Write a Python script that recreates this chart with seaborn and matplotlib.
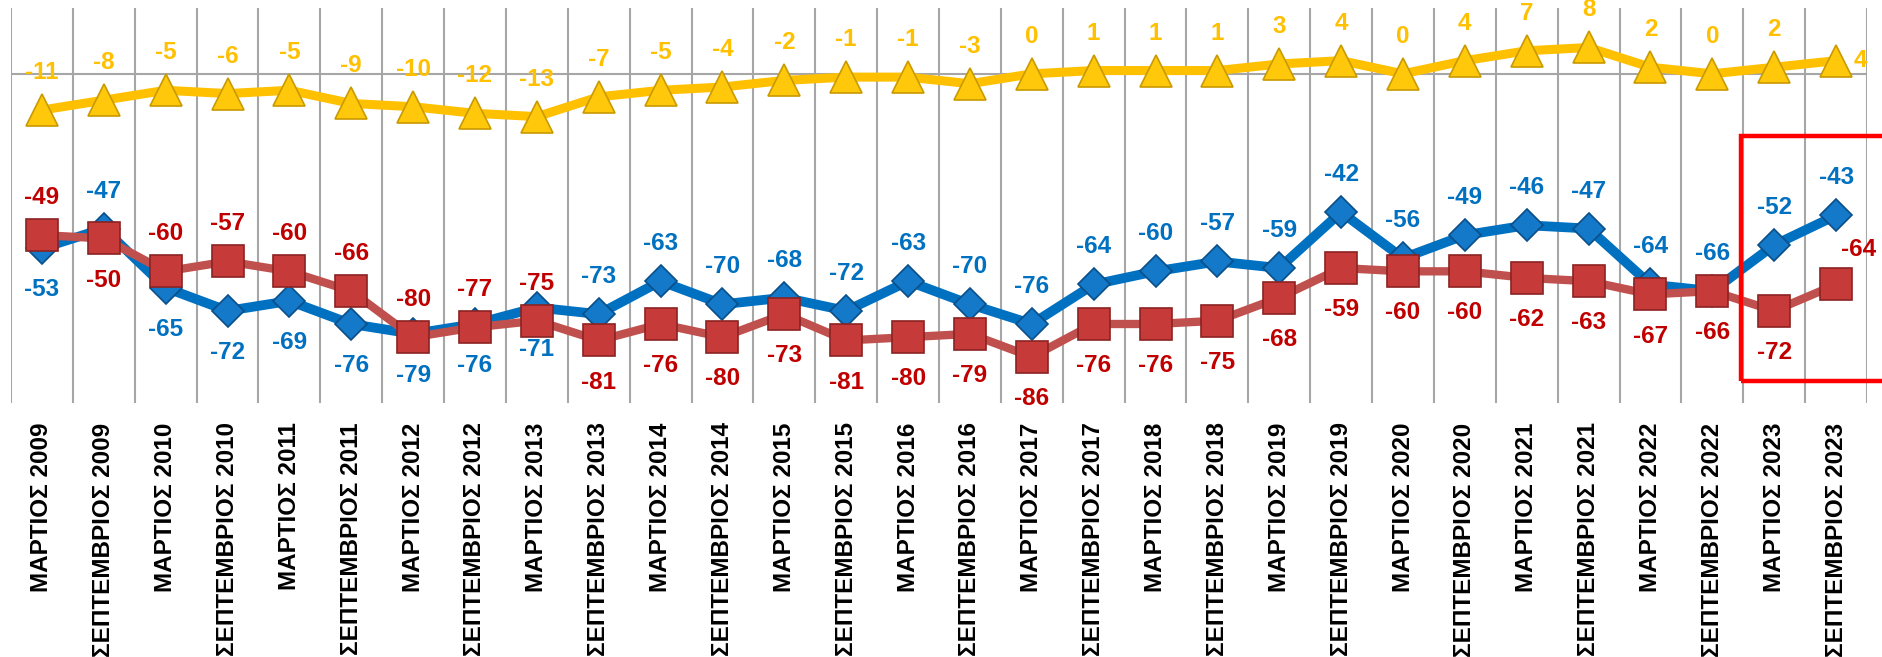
import numpy as np
import pandas as pd
import matplotlib
matplotlib.use("Agg")
import matplotlib.pyplot as plt
from matplotlib.patches import Rectangle
import seaborn as sns

# data
categories = []
for year in range(2009, 2024):
    categories.append(f"ΜΑΡΤΙΟΣ {year}")
    categories.append(f"ΣΕΠΤΕΜΒΡΙΟΣ {year}")

yellow = [-11, -8, -5, -6, -5, -9, -10, -12, -13, -7, -5, -4, -2, -1, -1,
          -3, 0, 1, 1, 1, 3, 4, 0, 4, 7, 8, 2, 0, 2, 4]
blue = [-53, -47, -65, -72, -69, -76, -79, -76, -71, -73, -63, -70, -68, -72, -63,
        -70, -76, -64, -60, -57, -59, -42, -56, -49, -46, -47, -64, -66, -52, -43]
red = [-49, -50, -60, -57, -60, -66, -80, -77, -75, -81, -76, -80, -73, -81, -80,
       -79, -86, -76, -76, -75, -68, -59, -60, -60, -62, -63, -67, -66, -72, -64]

# where each value label sits relative to its marker
yellow_pos = ["above"] * 29 + ["right"]
blue_pos = ["below", "above"] + ["below"] * 7 + ["above"] * 21
red_pos = ["above", "below"] + ["above"] * 7 + ["below"] * 20 + ["above_right"]

df = pd.DataFrame({"x": np.arange(len(categories)), "cat": categories,
                   "yellow": yellow, "blue": blue, "red": red})

sns.set_style("white")
plt.rcParams["font.family"] = ["Liberation Sans", "DejaVu Sans"]

fig = plt.figure(figsize=(18.83, 6.57), dpi=100)
ax = fig.add_axes([11 / 1883, 1 - 403 / 657, 1856 / 1883, 395 / 657])

sns.lineplot(data=df, x="x", y="yellow", ax=ax, color="#FFC000", linewidth=6.5,
             marker="^", markersize=23, markerfacecolor="#FFC80A",
             markeredgecolor="#C99A00", markeredgewidth=1.2, zorder=3)
sns.lineplot(data=df, x="x", y="blue", ax=ax, color="#0070C0", linewidth=7,
             marker="D", markersize=16.5, markerfacecolor="#1379C8",
             markeredgecolor="#0A4F8A", markeredgewidth=1.2, zorder=4)
sns.lineplot(data=df, x="x", y="red", ax=ax, color="#C0504D", linewidth=6,
             marker="s", markersize=23, markerfacecolor="#C73A3A",
             markeredgecolor="#8C2222", markeredgewidth=1.2, zorder=5)

offsets = {"above": (0, 27, "center"),
           "below": (0, -30, "center"),
           "right": (13, 0, "left"),
           "above_right": (16, 25, "center")}


def add_labels(values, positions, color):
    for i, (v, p) in enumerate(zip(values, positions)):
        dx, dy, ha = offsets[p]
        ax.annotate(f"{v}", (i, v), xytext=(dx, dy), textcoords="offset points",
                    ha=ha, va="center", color=color, fontsize=17.5, fontweight="bold",
                    zorder=6, annotation_clip=False)


add_labels(yellow, yellow_pos, "#FFC000")
add_labels(blue, blue_pos, "#0070C0")
add_labels(red, red_pos, "#C00000")

ax.set_xlim(-0.5, len(categories) - 0.5)
ax.set_ylim(-100, 20)
ax.set_xticks(df["x"])
ax.set_xticklabels(categories, rotation=90, fontsize=17.5, fontweight="bold", color="black")
ax.set_xticks(np.arange(-0.5, len(categories), 1), minor=True)
ax.tick_params(axis="x", which="both", length=0, pad=14)
ax.set_yticks([])
ax.grid(False)
ax.grid(which="minor", axis="x", color="#A6A6A6", linewidth=1.5, zorder=0)
ax.axhline(0, color="#A6A6A6", linewidth=1.5, zorder=1)
for s in ax.spines.values():
    s.set_visible(False)
ax.set_xlabel("")
ax.set_ylabel("")

# red highlight frame around the last two periods
ax.add_patch(Rectangle((27.47, -93.3), 3.5, 74.3, fill=False, edgecolor="#FF0000",
                       linewidth=3.2, clip_on=False, zorder=7))

fig.savefig("out.png", dpi=100)
